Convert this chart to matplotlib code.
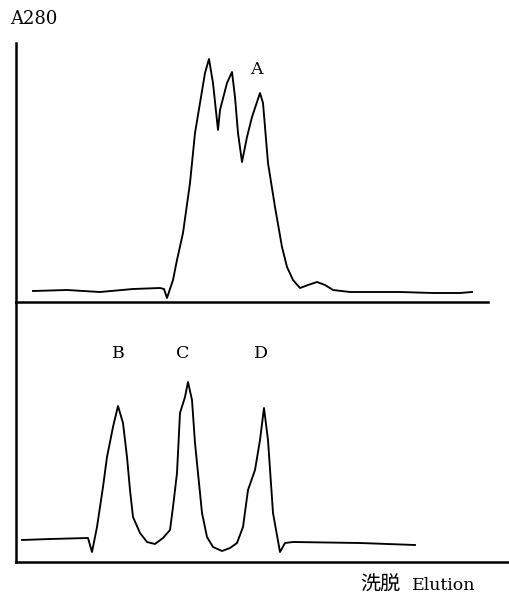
import matplotlib
matplotlib.use("Agg")
import matplotlib.pyplot as plt

# Top panel trace (elution position, A280 above baseline)
top_x = [17, 51, 84, 117, 144, 148, 151, 157, 161, 167, 174, 179, 184, 189, 193,
         197, 202, 204, 211, 216, 219, 222, 226, 231, 236, 244, 247, 252, 259, 266,
         271, 277, 284, 292, 301, 309, 317, 334, 384, 417, 444, 456]
top_y = [11, 12, 10, 13, 14, 13, 4, 22, 42, 69, 119, 169, 199, 229, 243,
         219, 172, 192, 219, 230, 205, 169, 140, 165, 185, 209, 199, 139, 95, 55,
         35, 22, 14, 17, 20, 17, 12, 10, 10, 9, 9, 10]

# Bottom panel trace
bot_x = [6, 34, 72, 76, 81, 87, 91, 97, 102, 107, 111, 114, 117, 124, 131, 139,
         147, 154, 157, 161, 164, 169, 172, 176, 179, 182, 186, 191, 197, 206, 214,
         221, 227, 232, 239, 244, 248, 252, 257, 264, 269, 277, 344, 399]
bot_y = [22, 23, 24, 10, 35, 75, 105, 135, 156, 139, 105, 72, 45, 29, 20, 18,
         24, 32, 55, 89, 149, 165, 180, 162, 119, 89, 49, 25, 15, 11, 14,
         19, 35, 72, 92, 122, 154, 122, 49, 10, 19, 20, 19, 17]

top_labels = ["A"]
top_label_pos = [(240, 233)]
bot_labels = ["B", "C", "D"]
bot_label_pos = [(102.5, 208), (167, 208), (244.5, 208)]

W, H = 510, 596
fig = plt.figure(figsize=(W / 100, H / 100), dpi=100)
fig.patch.set_facecolor("white")

serif = ["DejaVu Serif"]
lw_axis = 1.8
lw_curve = 1.35

ax1 = fig.add_axes([16 / W, (H - 302) / H, 472 / W, 259 / H])
ax1.plot(top_x, top_y, color="black", lw=lw_curve, solid_joinstyle="round")
ax1.set_xlim(0, 472)
ax1.set_ylim(0, 259)

ax2 = fig.add_axes([16 / W, (H - 562) / H, 494 / W, 260 / H])
ax2.plot(bot_x, bot_y, color="black", lw=lw_curve, solid_joinstyle="round")
ax2.set_xlim(0, 494)
ax2.set_ylim(0, 260)

for ax in (ax1, ax2):
    ax.set_facecolor("none")
    for s in ("top", "right"):
        ax.spines[s].set_visible(False)
    for s in ("left", "bottom"):
        ax.spines[s].set_linewidth(lw_axis)
        ax.spines[s].set_color("black")
    ax.set_xticks([])
    ax.set_yticks([])

for lab, (x, y) in zip(top_labels, top_label_pos):
    ax1.text(x, y, lab, ha="center", va="center", fontsize=12.5, family=serif)
for lab, (x, y) in zip(bot_labels, bot_label_pos):
    ax2.text(x, y, lab, ha="center", va="center", fontsize=12.5, family=serif)

fig.text(10 / W, 1 - 19 / H, "A280", ha="left", va="center", fontsize=13, family=serif)
fig.text(380 / W, 1 - 585 / H, "洗脱", ha="center", va="center", fontsize=14.5,
         family=["Noto Sans CJK SC"])
fig.text(412 / W, 1 - 585 / H, "Elution", ha="left", va="center", fontsize=12.5,
         family=serif)

fig.savefig("out.png", dpi=100, facecolor="white")
